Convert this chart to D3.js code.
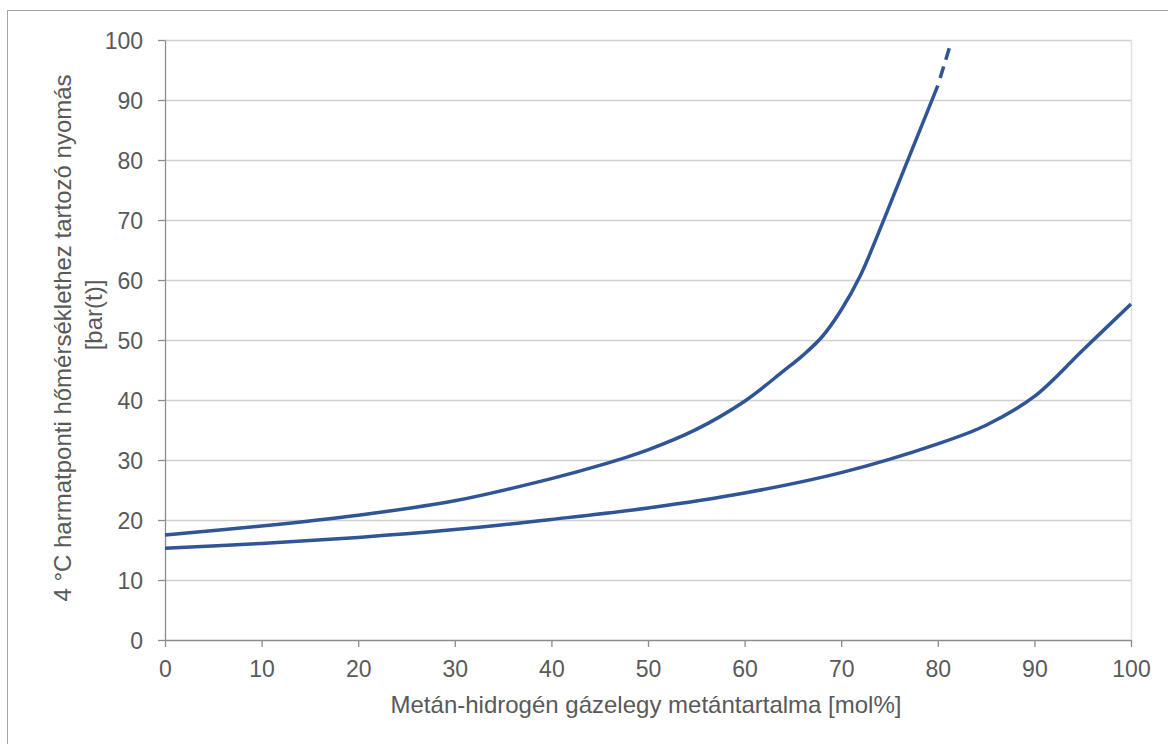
<!DOCTYPE html>
<html>
<head>
<meta charset="utf-8">
<script src="https://cdn.jsdelivr.net/npm/d3@7"></script>
<style>
  body { margin: 0; background: #fff; }
  text { font-family: "Liberation Sans", Arial, sans-serif; fill: #595959; }
</style>
</head>
<body>
<svg id="chart" width="1168" height="744"></svg>
<script>
// upper curve (solid part) - methane content [mol%] vs pressure [bar(t)]
var upperX = [0, 10, 20, 30, 40, 45, 50, 55, 60, 64, 66, 68, 70, 72, 74, 76, 78, 80];
var upperY = [17.5, 19.0, 20.8, 23.2, 26.9, 29.1, 31.7, 35.1, 39.8, 44.8, 47.4, 50.5, 55.0, 60.8, 68.4, 76.4, 84.4, 92.4];
// dashed extrapolation of the upper curve
var dashX = [80, 81.3];
var dashY = [92.4, 99.2];
// lower curve
var lowerX = [0, 10, 20, 30, 40, 50, 60, 70, 80, 85, 90, 95, 100];
var lowerY = [15.3, 16.1, 17.1, 18.4, 20.1, 22.0, 24.5, 27.9, 32.7, 35.8, 40.6, 48.3, 56.0];

var xTicks = [0, 10, 20, 30, 40, 50, 60, 70, 80, 90, 100];
var yTicks = [0, 10, 20, 30, 40, 50, 60, 70, 80, 90, 100];
var xTitle = "Metán-hidrogén gázelegy metántartalma [mol%]";
var yTitle1 = "4 °C harmatponti hőmérséklethez tartozó nyomás";
var yTitle2 = "[bar(t)]";

var svg = d3.select("#chart");
var margin = {left: 165, top: 40, right: 37, bottom: 104};
var width = 1168 - margin.left - margin.right;
var height = 744 - margin.top - margin.bottom;

// outer frame (runs off the right and bottom edges)
svg.append("rect")
    .attr("x", 7.5).attr("y", 10.5)
    .attr("width", 1200).attr("height", 800)
    .attr("fill", "none")
    .attr("stroke", "#a6a6a6");

var g = svg.append("g").attr("transform", "translate(" + margin.left + "," + margin.top + ")");

var x = d3.scaleLinear().domain([0, 100]).range([0, width]);
var y = d3.scaleLinear().domain([0, 100]).range([height, 0]);

// gridlines
g.append("g")
    .selectAll("line")
    .data(yTicks.filter(d => d > 0))
    .enter().append("line")
    .attr("x1", 0).attr("x2", width)
    .attr("y1", d => Math.round(y(d)) + 0.5)
    .attr("y2", d => Math.round(y(d)) + 0.5)
    .attr("stroke", "#d0d0d0")
    .attr("stroke-width", 1.3);

// light right border of plot area
g.append("line")
    .attr("x1", width + 0.5).attr("x2", width + 0.5)
    .attr("y1", 0).attr("y2", height)
    .attr("stroke", "#e0e0e0")
    .attr("stroke-width", 1.5);

// axes
var xAxis = d3.axisBottom(x).tickValues(xTicks).tickSize(7).tickPadding(14).tickSizeOuter(0);
var yAxis = d3.axisLeft(y).tickValues(yTicks).tickSize(7).tickPadding(15).tickSizeOuter(0);

var gx = g.append("g")
    .attr("transform", "translate(0," + height + ")")
    .call(xAxis);
var gy = g.append("g").call(yAxis);

[gx, gy].forEach(function (a) {
    a.select(".domain").attr("stroke", "#8c8c8c").attr("stroke-width", 1.3);
    a.selectAll(".tick line").attr("stroke", "#8c8c8c").attr("stroke-width", 1.3);
    a.selectAll(".tick text")
        .attr("font-size", 23)
        .attr("font-family", "Liberation Sans, Arial, sans-serif")
        .attr("fill", "#595959");
});
gy.selectAll(".tick text").attr("dy", "0.35em");

// curves
var line = d3.line()
    .x(d => x(d[0]))
    .y(d => y(d[1]))
    .curve(d3.curveCatmullRom.alpha(0.5));

var upper = upperX.map((v, i) => [v, upperY[i]]);
var lower = lowerX.map((v, i) => [v, lowerY[i]]);
var dashed = dashX.map((v, i) => [v, dashY[i]]);

g.append("path")
    .datum(lower)
    .attr("d", line)
    .attr("fill", "none")
    .attr("stroke", "#2f5597")
    .attr("stroke-width", 3.5);

g.append("path")
    .datum(upper)
    .attr("d", line)
    .attr("fill", "none")
    .attr("stroke", "#2f5597")
    .attr("stroke-width", 3.5);

g.append("path")
    .datum(dashed)
    .attr("d", d3.line().x(d => x(d[0])).y(d => y(d[1])))
    .attr("fill", "none")
    .attr("stroke", "#2f5597")
    .attr("stroke-width", 3.5)
    .attr("stroke-dasharray", "0 8 12 7 12 7");

// axis titles
svg.append("text")
    .attr("x", 646)
    .attr("y", 713)
    .attr("text-anchor", "middle")
    .attr("font-size", 24)
    .text(xTitle);

svg.append("text")
    .attr("transform", "translate(71,338) rotate(-90)")
    .attr("text-anchor", "middle")
    .attr("font-size", 24)
    .text(yTitle1);

svg.append("text")
    .attr("transform", "translate(102,315) rotate(-90)")
    .attr("text-anchor", "middle")
    .attr("font-size", 24)
    .text(yTitle2);
</script>
</body>
</html>
